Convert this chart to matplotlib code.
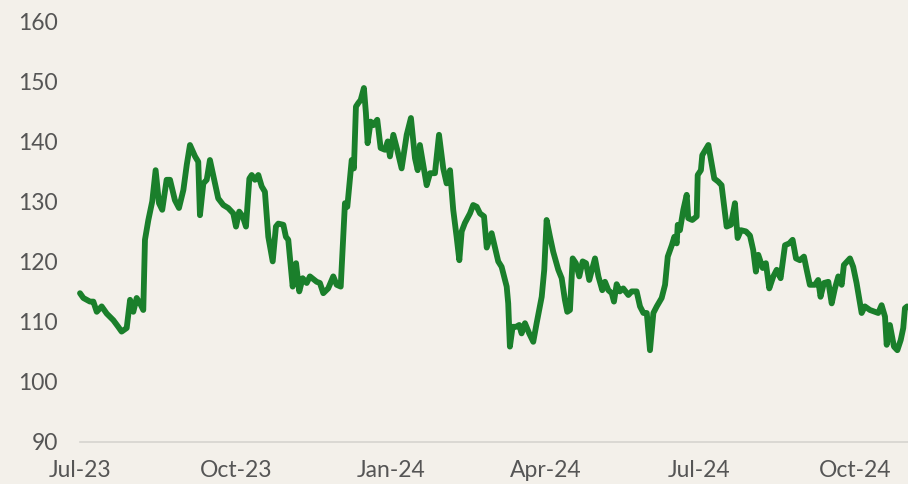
import matplotlib.pyplot as plt
import pandas as pd

days = [
    0.0, 2.0, 5.9, 7.9, 9.9, 12.8, 15.8, 19.7, 22.6, 24.6, 27.6, 29.6, 31.5, 33.5,
    35.5, 37.4, 38.4, 40.4, 42.7, 44.7, 46.7, 48.6, 51.2, 53.2, 56.1, 58.5, 61.1,
    63.1, 65.0, 68.0, 69.9, 70.9, 72.9, 74.9, 76.8, 79.8, 81.7, 84.7, 87.6, 90.6,
    92.2, 94.1, 96.2, 98.1, 100.1, 101.5, 103.4, 105.4, 107.4, 109.3, 111.3, 113.9,
    115.8, 117.2, 120.2, 121.7, 123.1, 125.7, 127.7, 129.6, 131.6, 134.0, 135.9,
    139.9, 141.8, 143.8, 146.7, 149.7, 151.7, 154.1, 156.6, 158.0, 160.6, 161.9,
    163.1, 164.5, 165.9, 167.8, 169.0, 170.0, 171.8, 173.3, 175.7, 177.7, 180.3,
    181.9, 183.2, 185.2, 187.5, 190.1, 193.1, 195.6, 198.0, 199.6, 200.9, 202.9,
    204.9, 206.9, 209.8, 212.2, 214.7, 216.7, 218.7, 220.6, 222.6, 224.2, 225.6,
    227.5, 230.5, 232.4, 234.5, 236.4, 238.8, 240.4, 243.3, 245.4, 247.2, 249.2,
    252.2, 253.1, 254.1, 255.7, 257.7, 259.6, 261.0, 263.0, 265.5, 267.9, 269.9,
    272.9, 274.4, 275.8, 277.8, 279.7, 282.7, 284.7, 286.6, 288.0, 289.6, 291.2,
    293.1, 295.1, 297.1, 299.1, 301.0, 304.4, 306.4, 308.7, 310.3, 312.3, 314.3,
    315.6, 317.2, 319.1, 321.1, 324.1, 326.1, 329.0, 331.0, 333.0, 335.0, 336.9,
    338.9, 340.9, 343.8, 345.8, 347.4, 349.8, 351.3, 352.7, 353.3, 354.6, 356.6,
    358.6, 359.5, 361.9, 364.5, 365.1, 367.0, 367.8, 371.4, 373.3, 374.9, 377.2,
    379.2, 382.2, 384.7, 387.1, 388.7, 390.7, 393.6, 396.0, 397.9, 399.5, 400.9,
    403.5, 405.4, 407.4, 409.8, 411.8, 414.1, 415.3, 416.7, 419.2, 421.2, 423.2,
    425.5, 427.9, 429.5, 431.4, 434.4, 436.3, 437.7, 439.7, 442.3, 444.3, 446.2,
    448.2, 450.2, 451.5, 455.1, 457.0, 459.0, 462.0, 463.9, 466.9, 469.8, 471.8,
    473.8, 475.8, 476.8, 478.7, 481.1, 483.1, 485.1, 486.6, 487.6, 488.9,
]
values = [
    114.8, 114.0, 113.4, 113.4, 111.7, 112.6, 111.4, 110.3, 109.2, 108.4, 109.0,
    113.7, 111.7, 114.0, 113.1, 112.0, 123.7, 127.0, 130.1, 135.3, 129.8, 128.7,
    133.7, 133.7, 130.3, 129.0, 132.0, 136.2, 139.5, 137.6, 136.7, 127.8, 133.1,
    133.7, 137.0, 133.1, 130.6, 129.5, 129.0, 128.1, 125.9, 128.4, 127.6, 125.9,
    133.9, 134.5, 133.7, 134.5, 132.6, 131.7, 124.2, 120.1, 125.9, 126.4, 126.2,
    124.2, 123.7, 115.9, 119.8, 115.1, 117.3, 116.5, 117.6, 116.7, 116.5, 114.8,
    115.6, 117.6, 116.2, 115.9, 129.8, 129.2, 137.0, 135.6, 145.9, 146.5, 147.0,
    149.0, 144.8, 139.8, 143.4, 142.8, 143.7, 139.0, 138.7, 140.1, 137.6, 141.2,
    138.7, 135.6, 141.2, 144.0, 137.3, 135.3, 139.5, 136.2, 132.8, 134.8, 134.8,
    141.2, 135.6, 133.1, 135.3, 128.7, 124.2, 120.3, 125.1, 126.5, 128.1, 129.5,
    129.2, 128.1, 127.6, 122.4, 124.8, 122.3, 120.1, 119.2, 115.9, 113.1, 105.9,
    109.2, 109.2, 109.5, 108.1, 109.8, 108.1, 106.7, 109.8, 114.2, 118.7, 127.0,
    124.2, 121.7, 118.7, 117.3, 113.7, 111.7, 112.0, 120.6, 119.8, 117.6, 120.1,
    119.8, 117.0, 120.6, 117.6, 115.3, 116.7, 115.3, 114.8, 113.4, 116.3, 115.1,
    115.6, 114.5, 115.1, 115.1, 112.6, 111.5, 111.5, 105.3, 111.5, 112.6, 114.0,
    116.2, 120.9, 122.8, 124.2, 123.1, 126.2, 125.3, 128.7, 131.2, 127.3, 127.0,
    127.6, 134.5, 135.3, 137.8, 139.5, 136.5, 133.9, 133.4, 132.8, 125.9, 126.2,
    129.8, 124.0, 125.3, 125.1, 124.4, 122.0, 118.4, 121.2, 119.0, 119.8, 115.6,
    117.6, 118.7, 117.3, 119.8, 122.8, 123.1, 123.7, 120.6, 120.3, 120.9, 118.7,
    116.2, 116.2, 117.0, 114.2, 116.5, 116.7, 113.1, 115.6, 117.6, 116.2, 119.5,
    120.6, 119.2, 116.5, 111.5, 112.6, 112.0, 111.7, 111.5, 112.8, 110.9, 106.2,
    109.5, 105.9, 105.3, 107.0, 109.0, 112.3, 112.6,
]

tick_dates = ['2023-07-01', '2023-10-01', '2024-01-01', '2024-04-01', '2024-07-01', '2024-10-01']
tick_labels = ['Jul-23', 'Oct-23', 'Jan-24', 'Apr-24', 'Jul-24', 'Oct-24']
y_ticks = [90, 100, 110, 120, 130, 140, 150, 160]

start = pd.Timestamp('2023-07-01')
dates = start + pd.to_timedelta(days, unit='D')

bg = '#f3f0ea'
plt.rcParams['font.family'] = ['Lato', 'DejaVu Sans']

fig = plt.figure(figsize=(9.08, 4.84), dpi=100, facecolor=bg)
ax = fig.add_axes([80 / 908, 42 / 484, 828 / 908, 420 / 484], facecolor=bg)

ax.plot(dates, values, color='#1a7f2b', linewidth=4.2, solid_joinstyle='round',
        solid_capstyle='round', clip_on=False)

ax.set_ylim(90, 160)
ax.set_xlim(start, start + pd.Timedelta(days=489.4))
ax.set_yticks(y_ticks)
ax.set_xticks(pd.to_datetime(tick_dates))
ax.set_xticklabels(tick_labels)

for s in ['top', 'right', 'left']:
    ax.spines[s].set_visible(False)
ax.spines['bottom'].set_color('#d6d4cf')
ax.spines['bottom'].set_linewidth(1.2)
ax.tick_params(axis='both', length=0, labelsize=16.5, labelcolor='#555555')
ax.tick_params(axis='y', pad=16)
ax.tick_params(axis='x', pad=13)

fig.savefig('out.png', dpi=100, facecolor=bg)
